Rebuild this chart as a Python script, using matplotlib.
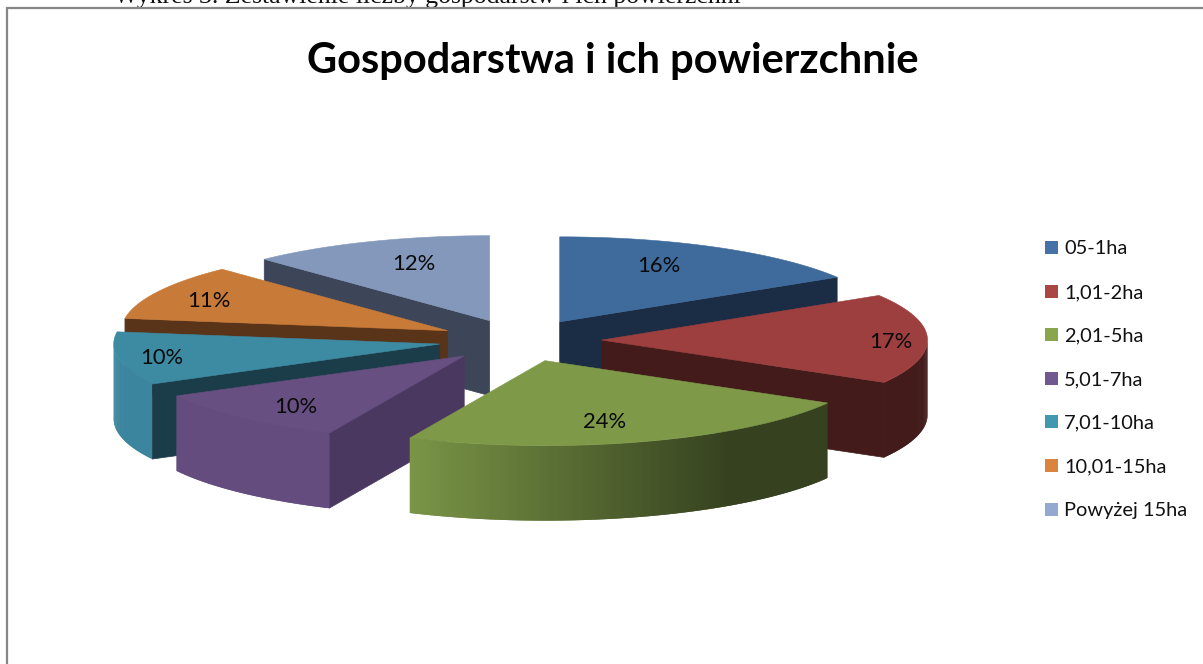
import numpy as np
import matplotlib
matplotlib.use("Agg")
import matplotlib.pyplot as plt
from matplotlib.patches import Polygon, Rectangle

# ---- data ----
categories = ["05-1ha", "1,01-2ha", "2,01-5ha", "5,01-7ha", "7,01-10ha", "10,01-15ha", "Powyżej 15ha"]
shares = [16.2, 17.1, 23.5, 10.4, 10.1, 10.55, 12.15]
title = "Gospodarstwa i ich powierzchnie"
caption = "Wykres 3. Zestawienie liczby gospodarstw i ich powierzchni"

# ---- style / layout ----
top_colors = ["#3f6b9c", "#9c3f3e", "#7e9a49", "#674f82", "#3d8aa3", "#c87a38", "#8498bc"]
legend_colors = ["#4672a6", "#aa4644", "#89a54e", "#71588f", "#4198af", "#db843d", "#93a9cf"]
edge_wall_colors = ["#1a2d45", "#431b1b", "#354019", "#4a3860", "#1b3d49", "#5a3418", "#3d4558"]
label_xy = [(659, 266), (891, 342), (605, 422), (296, 407), (162, 358), (209, 301), (414, 264)]
legend_y = [247.5, 291, 334.5, 378, 421.5, 465, 509]
CX, CY = 520.0, 340.4
RX, RY = 326.0, 85.0
EXPLODE = 0.25
DEPTH = 75.0
FONT = "Lato"

fig = plt.figure(figsize=(12.03, 6.64), dpi=100, facecolor="white")
ax = fig.add_axes([0, 0, 1, 1])
ax.set_xlim(0, 1203)
ax.set_ylim(664, 0)
ax.axis("off")


def darken(col, f):
    return tuple(c * f for c in matplotlib.colors.to_rgb(col))


def ell(ax0, ay0, deg):
    t = np.radians(deg)
    return ax0 + RX * np.sin(t), ay0 - RY * np.cos(t)


# caption clipped by the top of the picture, then the chart frame
ax.text(427, 3.5, caption, family="Liberation Serif", fontsize=18.5, ha="center", va="baseline", color="#111111", zorder=1)
ax.add_patch(Rectangle((6.5, 7.5), 1300, 800, fc="white", ec="#868686", lw=1.6, zorder=2))

total = sum(shares)
edges = np.cumsum([0] + shares) / total * 360.0
slices = []
for i in range(len(shares)):
    a0, a1 = edges[i], edges[i + 1]
    mid = np.radians((a0 + a1) / 2)
    slices.append((np.cos(mid), i, a0, a1, mid))

z = 3
for _, i, a0, a1, mid in sorted(slices, key=lambda s: -s[0]):
    px = CX + EXPLODE * RX * np.sin(mid)
    py = CY - EXPLODE * RY * np.cos(mid)
    angs = np.linspace(a0, a1, int(np.ceil((a1 - a0) * 2)) + 1)
    xs, ys = ell(px, py, angs)

    # radial walls that face the viewer: the start edge on the left half, the end edge on the right half
    walls = []
    if np.sin(np.radians(a0)) < -1e-6:
        walls.append(a0)
    if np.sin(np.radians(a1)) > 1e-6:
        walls.append(a1)
    for a in walls:
        ex, ey = ell(px, py, a)
        ax.add_patch(Polygon([(px, py), (ex, ey), (ex, ey + DEPTH), (px, py + DEPTH)],
                             closed=True, fc=edge_wall_colors[i], ec=edge_wall_colors[i], lw=0.5, zorder=z))
    # curved outer wall, lit from the left, darker to the right; quads overlap the next one to avoid seams
    n = len(angs) - 1
    for k in range(n):
        am = (angs[k] + angs[k + 1]) / 2
        if np.cos(np.radians(am)) > 0:
            continue
        s = np.sin(np.radians(am))
        f = np.clip(0.97 - (s + 0.42) * (0.54 / 0.98), 0.43, 0.97)
        col = darken(top_colors[i], f)
        j = min(k + 2, n)
        qx = np.r_[xs[k:j + 1], xs[k:j + 1][::-1]]
        qy = np.r_[ys[k:j + 1], ys[k:j + 1][::-1] + DEPTH]
        ax.add_patch(Polygon(np.column_stack([qx, qy]), closed=True, fc=col, ec="none", zorder=z + k * 1e-4))
    # top face
    ax.add_patch(Polygon(np.column_stack([np.r_[px, xs], np.r_[py, ys]]),
                         closed=True, fc=top_colors[i], ec=top_colors[i], lw=0.4, zorder=z + 0.5))
    ax.text(label_xy[i][0], label_xy[i][1], f"{shares[i]:.0f}%", family=FONT, fontsize=15.8,
            ha="center", va="center", color="#0a0a0a", zorder=50)
    z += 1

ax.text(613, 61.5, title, family=FONT, fontweight="bold", fontsize=30, ha="center", va="center", color="black", zorder=50)

for name, col, y in zip(categories, legend_colors, legend_y):
    ax.add_patch(Rectangle((1045, y - 6.5), 13, 13, fc=col, ec="none", zorder=50))
    ax.text(1064, y + 7, name, family=FONT, fontsize=14.4, ha="left", va="baseline", color="#111111", zorder=50)

fig.savefig("out.png", dpi=100, facecolor="white")
